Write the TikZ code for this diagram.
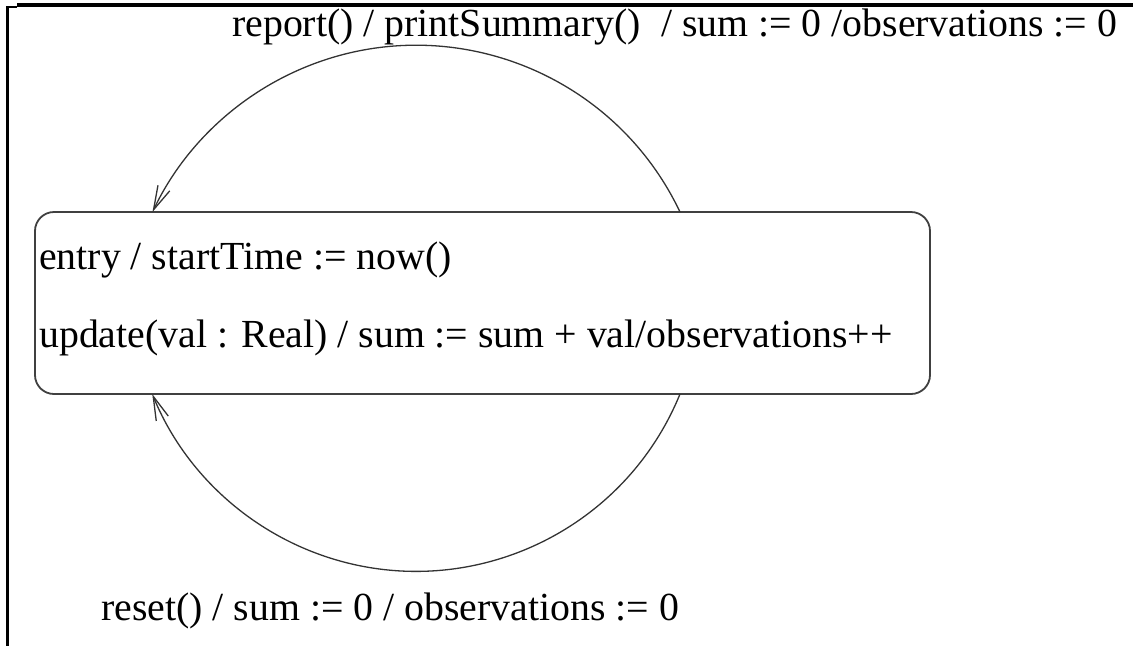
\documentclass[tikz,border=0pt]{standalone}
\usepackage{fontspec}
\setmainfont{Liberation Serif}
\usetikzlibrary{arrows.meta}
\begin{document}
\begin{tikzpicture}[x=1pt,y=-1pt,
  lbl/.style={anchor=base west, inner sep=0pt, font=\fontsize{39.8pt}{47pt}\selectfont},
  statebox/.style={draw=black!75, rounded corners=19pt, line width=1.8pt, inner sep=0pt},
  trans/.style={draw=black!80, line width=1.3pt, -{Straight Barb[length=24pt,width=13pt,line width=1.3pt]}}]
\useasboundingbox (0,0) rectangle (1133,646);
% frame
\draw[line width=4pt] (17,5) -- (1133,5);
\draw[line width=3pt] (7,6) -- (7,646);
\draw[line width=2pt] (6,6.5) -- (17,6.5);
% state
\node[statebox, minimum width=895pt, minimum height=182pt] (s) at (482.5,303) {};
\node[lbl] (e1) at (39,269) {entry / startTime := now()};
\node[lbl] (e2) at (39,347) {update(val : Real) / sum := sum + val/observations++};
% transitions
\coordinate (tr) at (680,212);
\coordinate (tl) at (152,212);
\coordinate (br) at (680,394);
\coordinate (bl) at (152,394);
\draw[trans] (tr) arc[start angle=25.4, end angle=154.6, radius=292pt];
\draw[trans] (br) arc[start angle=-22.2, end angle=-157.8, radius=285pt];
\node[lbl] (l1) at (232,36) {report() / printSummary() \ / sum := 0 /observations := 0};
\node[lbl] (l2) at (101,620) {reset() / sum := 0 / observations := 0};
\end{tikzpicture}
\end{document}
